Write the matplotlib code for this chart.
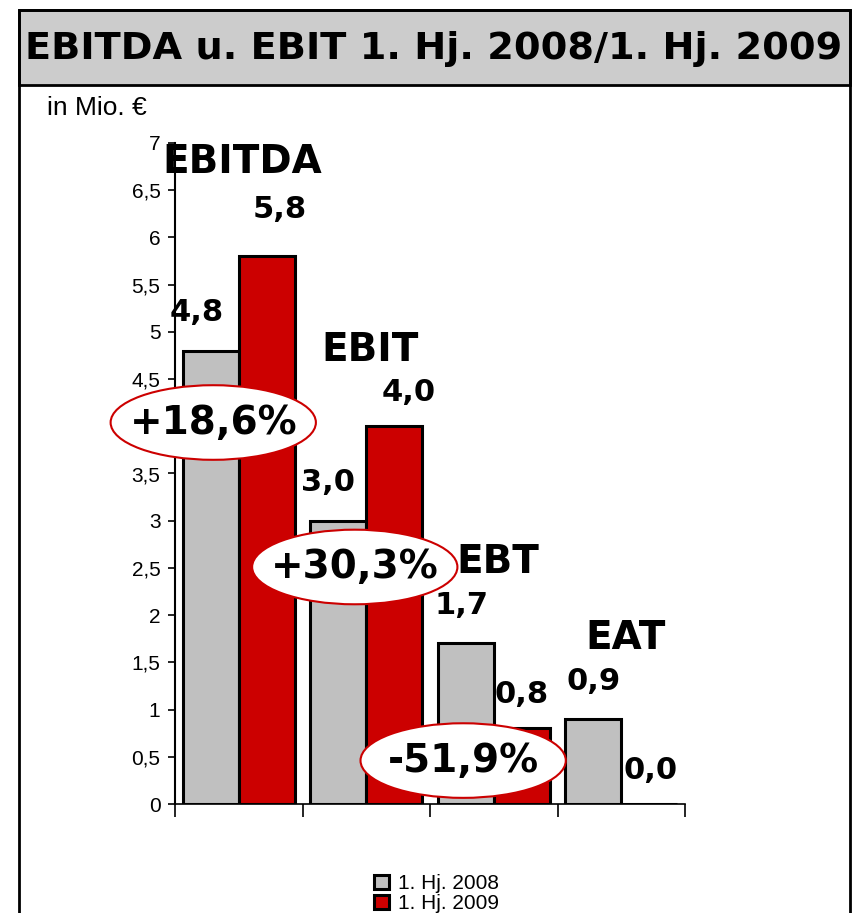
import matplotlib.pyplot as plt
import numpy as np
from matplotlib.patches import Ellipse, Rectangle

categories = ['EBITDA', 'EBIT', 'EBT', 'EAT']
h1_2008 = [4.8, 3.0, 1.7, 0.9]
h1_2009 = [5.8, 4.0, 0.8, 0.0]
changes = ['+18,6%', '+30,3%', '-51,9%']
series_names = ['1. Hj. 2008', '1. Hj. 2009']
title = 'EBITDA u. EBIT 1. Hj. 2008/1. Hj. 2009'

W, H = 858, 913
fig = plt.figure(figsize=(W / 100, H / 100), dpi=100)

# frame + grey title band (figure pixel coords)
def px(x, y):
    return x / W, 1 - y / H

band = Rectangle(px(19, 85), 831 / W, 75 / H, transform=fig.transFigure,
                 facecolor='#cccccc', edgecolor='black', lw=2.0)
fig.patches.append(band)
frame = Rectangle(px(19, 940), 831 / W, 930 / H, transform=fig.transFigure,
                  facecolor='none', edgecolor='black', lw=2.0)
fig.patches.append(frame)
fig.text(*px(434, 49), title, ha='center', va='center', fontsize=27.5,
         fontweight='bold', family='DejaVu Sans')
fig.text(*px(47, 108), 'in Mio. \u20ac', ha='left', va='center', fontsize=19,
         family='Liberation Sans')

ax = fig.add_axes([175 / W, 109 / H, 510 / W, 661 / H])
x = np.arange(len(categories))
w = 0.44
b1 = ax.bar(x - w / 2, h1_2008, w, color='#c0c0c0', edgecolor='black', lw=2.2,
            label=series_names[0], zorder=2)
b2 = ax.bar(x + w / 2, h1_2009, w, color='#cc0000', edgecolor='black', lw=2.2,
            label=series_names[1], zorder=2)

yt = np.arange(0, 7.01, 0.5)
ax.set_xlim(-0.5, 3.5)
ax.set_ylim(0, 7)
ax.set_yticks(yt)
# the "4" label sits under the +18,6% ellipse in the original
ax.set_yticklabels(['' if v == 4 else f'{v:g}'.replace('.', ',') for v in yt],
                   family='Liberation Sans', fontsize=15)
ax.set_xticks(np.arange(-0.5, 3.6, 1))
ax.set_xticklabels([])
ax.tick_params(axis='x', length=9, width=1.2, direction='out')
ax.tick_params(axis='y', length=5, width=1.2, direction='out', pad=5.5)
for s in ['top', 'right']:
    ax.spines[s].set_visible(False)
ax.spines['left'].set_linewidth(1.5)
ax.spines['bottom'].set_linewidth(1.2)
ax.patch.set_alpha(0)

# change ellipses
ell_pos = [(-0.20, 4.04), (0.91, 2.51), (1.76, 0.46)]
for (cx, cy), txt in zip(ell_pos, changes):
    ax.add_patch(Ellipse((cx, cy), 1.61, 0.79, facecolor='white', edgecolor='#cc0000',
                         lw=1.5, zorder=4, clip_on=False))
    ax.text(cx, cy, txt, ha='center', va='center', fontsize=28, fontweight='bold',
            family='DejaVu Sans', zorder=5)

# category names above groups
cat_y = [6.80, 4.81, 2.56, 1.76]
for i, (c, cy) in enumerate(zip(categories, cat_y)):
    ax.text(i + 0.03, cy, c, ha='center', va='center', fontsize=28, fontweight='bold',
            family='DejaVu Sans', zorder=6, clip_on=False)

# value labels
dx1 = [-0.11, -0.08, -0.03, 0.0]
dx2 = [0.10, 0.11, 0.0, 0.01]
for i in range(len(categories)):
    ax.text(i - w / 2 + dx1[i], h1_2008[i] + 0.40, f'{h1_2008[i]:.1f}'.replace('.', ','),
            ha='center', va='center', fontsize=22, fontweight='bold',
            family='DejaVu Sans', zorder=6)
    ax.text(i + w / 2 + dx2[i], h1_2009[i] + (0.50 if i == 0 else 0.36),
            f'{h1_2009[i]:.1f}'.replace('.', ','),
            ha='center', va='center', fontsize=22, fontweight='bold',
            family='DejaVu Sans', zorder=6)

leg = fig.legend(handles=[b1, b2], loc='upper left', bbox_to_anchor=px(364, 864),
                 frameon=False, prop={'family': 'Liberation Sans', 'size': 15},
                 handlelength=0.7, handleheight=0.7, handletextpad=0.45,
                 labelspacing=0.05, borderpad=0)

fig.savefig('out.png', dpi=100)
